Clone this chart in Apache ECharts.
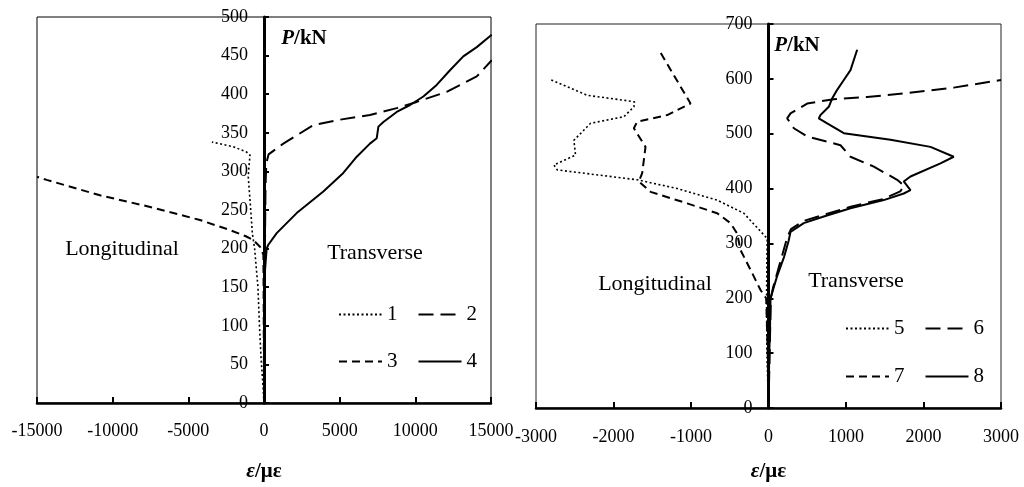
<!DOCTYPE html>
<html>
<head>
<meta charset="utf-8">
<script src="https://cdn.jsdelivr.net/npm/echarts@6/dist/echarts.min.js"></script>
<style>
  html, body { margin: 0; padding: 0; background: #fff; }
  #chart { width: 1024px; height: 487px; }
</style>
</head>
<body>
<div id="chart"></div>
<script>
// Load P (kN) against strain ε (με); each curve is a list of [strain, load] points.
// Left specimen: gauges 1–4
const curve1 = [[0, 0], [-60, 20], [-200, 60], [-300, 100], [-400, 150], [-620, 200], [-770, 220],
  [-925, 263], [-1040, 293], [-1000, 305], [-925, 321], [-1145, 325], [-2030, 332], [-3440, 338]];
const curve2 = [[0, 0], [30, 100], [60, 200], [100, 280], [150, 310], [300, 322], [1277, 336],
  [3260, 360], [5020, 367], [7000, 373], [8770, 382], [10090, 390], [12070, 403], [14060, 423], [15050, 444]];
const curve3 = [[0, 0], [-20, 120], [-40, 192], [-250, 202], [-700, 211], [-1200, 216], [-2250, 224],
  [-4230, 237], [-7530, 254], [-10840, 269], [-14360, 289], [-15000, 293]];
const curve4 = [[0, 0], [20, 100], [60, 170], [176, 200], [286, 205], [840, 220], [2160, 246], [3920, 274],
  [5240, 298], [6130, 319], [7000, 336], [7450, 343], [7560, 358], [7890, 364], [8770, 377], [9650, 386],
  [10530, 397], [11410, 412], [12290, 431], [13170, 449], [14060, 461], [15050, 477]];

// Right specimen: gauges 5–8
const curve5 = [[0, 0], [-20, 100], [-25, 200], [-20, 280], [-17, 309], [-319, 355], [-662, 379],
  [-1178, 400], [-1694, 416], [-2726, 434], [-2769, 443], [-2490, 461], [-2511, 488], [-2296, 519],
  [-1866, 531], [-1737, 549], [-1729, 558], [-1866, 561], [-2339, 570], [-2821, 599]];
const curve6 = [[0, 0], [15, 100], [30, 200], [60, 220], [150, 265], [240, 310], [290, 326], [455, 341],
  [710, 352], [1060, 367], [1480, 381], [1700, 395], [1750, 405], [1660, 416], [1359, 440], [1058, 458],
  [929, 479], [499, 495], [327, 510], [241, 528], [284, 537], [499, 555], [843, 563], [1273, 567],
  [1789, 574], [2390, 584], [3000, 598]];
const curve7 = [[0, 0], [-10, 100], [-30, 200], [-103, 215], [-232, 252], [-361, 288], [-404, 318],
  [-490, 337], [-662, 355], [-1049, 373], [-1522, 394], [-1673, 413], [-1630, 428], [-1587, 476],
  [-1737, 510], [-1694, 522], [-1307, 534], [-1006, 555], [-1415, 653]];
const curve8 = [[0, 0], [10, 100], [20, 150], [26, 200], [110, 240], [200, 275], [260, 305], [284, 321],
  [455, 337], [713, 349], [1058, 364], [1487, 379], [1745, 391], [1832, 397], [1745, 413], [1832, 422],
  [2219, 446], [2390, 458], [2090, 476], [1574, 489], [972, 501], [757, 519], [649, 528], [671, 534],
  [778, 549], [821, 564], [886, 580], [972, 598], [1058, 616], [1144, 653]];

// Axis ranges: [min, max, interval]
const leftStrainRange = [-15000, 15000, 5000];
const leftLoadRange = [0, 500, 50];
const rightStrainRange = [-3000, 3000, 1000];
const rightLoadRange = [0, 700, 100];

const serif = '"Liberation Serif", "DejaVu Serif", "Times New Roman", serif';

const dotted = [2, 2.5];
const longDash = [15, 7];
const shortDash = [8, 5];

// Plot boxes (pixels)
const leftBox = { left: 37, right: 533, top: 17, bottom: 84 };
const rightBox = { left: 536, right: 23, top: 24, bottom: 79 };
const W = 1024;

// distance from a box's left edge to where strain = 0
function zeroOffset(box, range) {
  const width = W - box.left - box.right;
  return width * (0 - range[0]) / (range[1] - range[0]);
}

function curve(name, data, idx, dash, width) {
  return {
    name: name,
    type: 'line',
    xAxisIndex: idx,
    yAxisIndex: idx,
    data: data,
    symbol: 'none',
    showSymbol: false,
    smooth: false,
    animation: false,
    clip: true,
    itemStyle: { color: '#000' },
    lineStyle: { color: '#000', width: width, type: dash }
  };
}

function xAxisFor(idx, range, nameGap, labelMargin) {
  return {
    type: 'value',
    gridIndex: idx,
    min: range[0], max: range[1], interval: range[2],
    name: '{i|ε}{b|/με}',
    nameLocation: 'middle',
    nameGap: nameGap,
    nameTextStyle: {
      rich: {
        i: { fontFamily: serif, fontSize: 21, fontWeight: 'bold', fontStyle: 'italic', color: '#000' },
        b: { fontFamily: serif, fontSize: 21, fontWeight: 'bold', color: '#000' }
      }
    },
    axisLine: { show: true, onZero: false, lineStyle: { color: '#000', width: 2.5 } },
    axisTick: { show: true, inside: true, length: 6, lineStyle: { color: '#000', width: 2 } },
    axisLabel: { color: '#000', fontFamily: serif, fontSize: 18, margin: labelMargin, formatter: function (v) { return String(v); } },
    splitLine: { show: false }
  };
}

function yAxisFor(idx, range, offset) {
  return {
    type: 'value',
    gridIndex: idx,
    position: 'left',
    offset: -offset,
    min: range[0], max: range[1], interval: range[2],
    axisLine: { show: true, onZero: false, lineStyle: { color: '#000', width: 3 } },
    axisTick: { show: true, inside: true, length: 5, lineStyle: { color: '#000', width: 2 } },
    axisLabel: { color: '#000', fontFamily: serif, fontSize: 18, margin: 16, formatter: function (v) { return String(v); } },
    splitLine: { show: false }
  };
}

function legendRow(names, left, top) {
  return {
    data: names,
    left: left,
    top: top,
    padding: 0,
    orient: 'horizontal',
    itemWidth: 43,
    itemHeight: 12,
    itemGap: 20,
    itemStyle: { opacity: 0 },
    textStyle: { color: '#000', fontFamily: serif, fontSize: 21 },
    inactiveColor: '#000'
  };
}

function label(text, x, y, size) {
  return {
    type: 'text',
    style: {
      text: text, x: x, y: y,
      font: size + 'px ' + serif,
      fill: '#000',
      align: 'center',
      verticalAlign: 'middle'
    }
  };
}

function unitLabel(x, y) {
  return {
    type: 'text',
    style: {
      text: '{p|P}{u|/kN}', x: x, y: y,
      align: 'center', verticalAlign: 'middle',
      rich: {
        p: { fontFamily: serif, fontSize: 21, fontWeight: 'bold', fontStyle: 'italic', fill: '#000', color: '#000' },
        u: { fontFamily: serif, fontSize: 21, fontWeight: 'bold', fill: '#000', color: '#000' }
      }
    }
  };
}

const chart = echarts.init(document.getElementById('chart'), null, { renderer: 'canvas' });

const gridBase = { show: true, borderWidth: 1, backgroundColor: 'transparent', containLabel: false, outerBoundsMode: 'none' };

chart.setOption({
  backgroundColor: '#fff',
  animation: false,
  grid: [
    Object.assign({}, gridBase, { borderColor: '#000' }, leftBox),
    Object.assign({}, gridBase, { borderColor: '#222' }, rightBox)
  ],
  xAxis: [xAxisFor(0, leftStrainRange, 58, 19), xAxisFor(1, rightStrainRange, 53, 20)],
  yAxis: [
    yAxisFor(0, leftLoadRange, zeroOffset(leftBox, leftStrainRange)),
    yAxisFor(1, rightLoadRange, zeroOffset(rightBox, rightStrainRange))
  ],
  legend: [
    legendRow(['1', '2'], 338, 304),
    legendRow(['3', '4'], 338, 351),
    legendRow(['5', '6'], 845, 318),
    legendRow(['7', '8'], 845, 366)
  ],
  graphic: [
    label('Longitudinal', 122, 249, 22),
    label('Transverse', 375, 253, 22),
    label('Longitudinal', 655, 284, 22),
    label('Transverse', 856, 281, 22),
    unitLabel(304, 39),
    unitLabel(797, 46)
  ],
  series: [
    curve('1', curve1, 0, dotted, 1.6),
    curve('2', curve2, 0, longDash, 2),
    curve('3', curve3, 0, shortDash, 2),
    curve('4', curve4, 0, 'solid', 2),
    curve('5', curve5, 1, dotted, 1.6),
    curve('6', curve6, 1, longDash, 2),
    curve('7', curve7, 1, shortDash, 2),
    curve('8', curve8, 1, 'solid', 2)
  ]
});
</script>
</body>
</html>
